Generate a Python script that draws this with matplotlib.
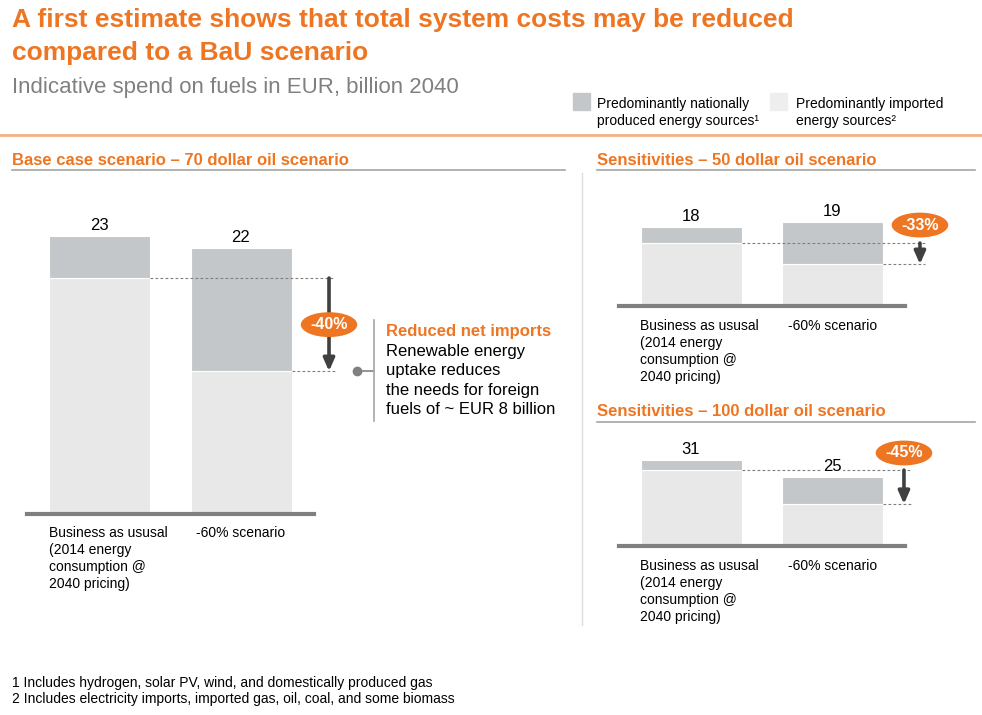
import numpy as np
import matplotlib
matplotlib.use('Agg')
import matplotlib.pyplot as plt

plt.rcParams['font.family'] = ['Liberation Sans', 'DejaVu Sans']

# data
categories = ['Business as ususal\n(2014 energy\nconsumption @\n2040 pricing)', '-60% scenario']
base_total = [23, 22]
base_imported = [19.5, 11.8]
s50_total = [18, 19]
s50_imported = [14.3, 9.5]
s100_total = [31, 25]
s100_imported = [27.5, 15.2]
change_labels = ['-40%', '-33%', '-45%']

ORANGE = '#EE7623'
DOM = '#C4C7C9'
IMP = '#E8E8E8'
DARK = '#404040'

W, H = 982, 715
fig = plt.figure(figsize=(W / 100, H / 100), dpi=100)


def T(x, y, s, step=0, **kw):
    # text in pixel coords of the page, one baseline per line
    for j, line in enumerate(s.split('\n')):
        fig.text(x / W, 1 - (y + j * step) / H, line, va='baseline', **kw)


def L(xs, ys, **kw):
    fig.add_artist(plt.Line2D([x / W for x in xs], [1 - y / H for y in ys], **kw))


def panel(left, right, bottom, top, c0, sp, scale, total, imported, lab_off):
    ax = fig.add_axes([left / W, 1 - bottom / H, (right - left) / W, (bottom - top) / H])
    ax.set_xlim((left - c0) / sp, (right - c0) / sp)
    ax.set_ylim(0, (bottom - top) / scale)
    x = np.arange(len(total))
    dom = np.array(total) - np.array(imported)
    wd = 101 / sp
    ax.bar(x, imported, width=wd, color=IMP, edgecolor='white', lw=0.8)
    ax.bar(x, dom, bottom=imported, width=wd, color=DOM, edgecolor='white', lw=0.8)
    for s in ['top', 'left', 'right']:
        ax.spines[s].set_visible(False)
    ax.spines['bottom'].set_color('#808080')
    ax.spines['bottom'].set_linewidth(3)
    ax.set_xticks([])
    ax.set_yticks([])
    ax.patch.set_alpha(0)
    for i, c in enumerate(categories):
        for j, line in enumerate(c.split('\n')):
            ax.annotate(line, xy=(x[i] - wd / 2, 0), xycoords=('data', 'axes fraction'),
                        xytext=(lab_off[i], -(lab_off[2] + j * 17)), textcoords='offset pixels',
                        ha='left', va='baseline', fontsize=10)
    return ax, x, wd


def change(ax, x, wd, imported, ax_x, end_x, badge_y, label):
    for i in range(len(x)):
        ax.plot([x[i] + wd / 2, end_x], [imported[i], imported[i]], ls=(0, (2.5, 2)),
                lw=0.8, color='#7F7F7F', clip_on=False, zorder=3)
    ax.annotate('', xy=(ax_x, imported[1]), xytext=(ax_x, imported[0]),
                arrowprops=dict(arrowstyle='-|>,head_length=0.75,head_width=0.33', lw=2.6,
                                color=DARK, shrinkA=0, shrinkB=0, mutation_scale=10),
                annotation_clip=False, zorder=4)
    ax.text(ax_x, badge_y, label, ha='center', va='center', color='white',
            fontsize=11.5, fontweight='bold', clip_on=False, zorder=5,
            bbox=dict(boxstyle='ellipse,pad=0.08', fc=ORANGE, ec='none'))


# title block
T(12, 27, 'A first estimate shows that total system costs may be reduced',
  color=ORANGE, fontsize=19, fontweight='bold')
T(12, 60, 'compared to a BaU scenario', color=ORANGE, fontsize=19, fontweight='bold')
T(12, 93, 'Indicative spend on fuels in EUR, billion 2040', color='#808080', fontsize=16)
L([0, W], [135, 135], color='#F4B183', lw=2)

# legend
fig.add_artist(plt.Rectangle((573 / W, 1 - 110 / H), 17 / W, 17 / H, color=DOM,
                             transform=fig.transFigure))
fig.add_artist(plt.Rectangle((770 / W, 1 - 110 / H), 17 / W, 17 / H, color='#EEEEEE',
                             transform=fig.transFigure))
T(597, 108, 'Predominantly nationally\nproduced energy sources\u00b9', step=17, fontsize=10)
T(796, 108, 'Predominantly imported\nenergy sources\u00b2', step=17, fontsize=10)

# section headers
T(12, 165, 'Base case scenario \u2013 70 dollar oil scenario', color=ORANGE, fontsize=12, fontweight='bold')
L([12, 565], [170, 170], color='#A6A6A6', lw=1.2)
T(597, 165, 'Sensitivities \u2013 50 dollar oil scenario', color=ORANGE, fontsize=12, fontweight='bold')
L([597, 975], [170, 170], color='#A6A6A6', lw=1.2)
T(597, 416, 'Sensitivities \u2013 100 dollar oil scenario', color=ORANGE, fontsize=12, fontweight='bold')
L([597, 975], [422, 422], color='#A6A6A6', lw=1.2)
L([582, 582], [173, 625], color='#DDDDDD', lw=1)

# base case
ax1, x1, w1 = panel(27, 314, 514, 180, 99.5, 141.5, 12.1, base_total, base_imported, [0, 6, 23])
for i in x1:
    ax1.annotate(str(base_total[i]), xy=(i, base_total[i]), xytext=(0, 6), textcoords='offset pixels',
                 ha='center', va='baseline', fontsize=12)
change(ax1, x1, w1, base_imported, 1.622, 1.664, np.mean(base_imported), change_labels[0])
# connector to callout
ax1.plot([1.82, 1.94], [base_imported[1]] * 2, color='#808080', lw=1.2, clip_on=False)
ax1.plot([1.82], [base_imported[1]], 'o', color='#808080', ms=6, clip_on=False)
ax1.plot([1.94, 1.94], [base_imported[1] - 4.1, base_imported[1] + 4.2], color='#A6A6A6', lw=1.2, clip_on=False)
T(386, 336, 'Reduced net imports', color=ORANGE, fontsize=12, fontweight='bold')
T(386, 356, 'Renewable energy\nuptake reduces\nthe needs for foreign\nfuels of ~ EUR 8 billion',
  step=19.5, fontsize=12)

# 50 dollar
ax2, x2, w2 = panel(619, 905, 306, 185, 691, 141.5, 4.4, s50_total, s50_imported, [0, 6, 24])
for i in x2:
    ax2.annotate(str(s50_total[i]), xy=(i, s50_total[i]), xytext=(0, 6), textcoords='offset pixels',
                 ha='center', va='baseline', fontsize=12)
change(ax2, x2, w2, s50_imported, 1.618, 1.654, 18.4, change_labels[1])

# 100 dollar
ax3, x3, w3 = panel(619, 905, 546, 435, 691, 141.5, 2.76, s100_total, s100_imported, [0, 6, 24])
change(ax3, x3, w3, s100_imported, 1.505, 1.562, 33.7, change_labels[2])
for i in x3:
    ax3.annotate(str(s100_total[i]), xy=(i, s100_total[i]), xytext=(0, 6), textcoords='offset pixels',
                 ha='center', va='baseline', fontsize=12, zorder=6,
                 bbox=dict(boxstyle='square,pad=0.1', fc='white', ec='none'))

# footnotes
T(12, 687, '1 Includes hydrogen, solar PV, wind, and domestically produced gas', fontsize=10)
T(12, 703, '2 Includes electricity imports, imported gas, oil, coal, and some biomass', fontsize=10)

plt.savefig('out.png', dpi=100)
